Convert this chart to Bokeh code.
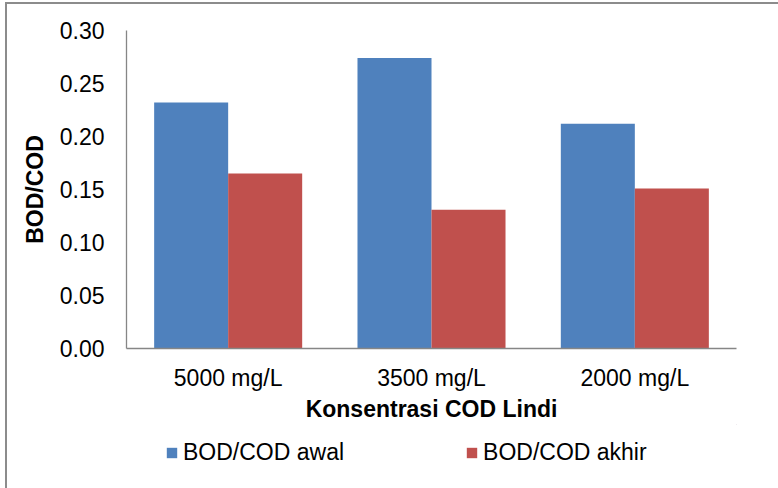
from bokeh.plotting import figure
from bokeh.layouts import column
from bokeh.models import FactorRange, Range1d, ColumnDataSource, FixedTicker, PrintfTickFormatter, Legend, LegendItem
from bokeh.transform import dodge
from bokeh.embed import file_html
from bokeh.resources import INLINE

categories = ["5000 mg/L", "3500 mg/L", "2000 mg/L"]
bod_cod_awal = [0.232, 0.274, 0.212]
bod_cod_akhir = [0.165, 0.131, 0.151]
series_names = ["BOD/COD awal", "BOD/COD akhir"]
y_ticks = [0.0, 0.05, 0.10, 0.15, 0.20, 0.25, 0.30]

FONT = "Liberation Sans"
BLUE = "#4F81BD"
RED = "#C0504D"
AXIS = "#868686"
FS = "23px"

src = ColumnDataSource(dict(cat=categories, awal=bod_cod_awal, akhir=bod_cod_akhir))

# canvas origin is at page x=7, y=4 (after margin + border)
p = figure(width=771, height=420, x_range=FactorRange(*categories, range_padding=0),
           y_range=(0, 0.30), output_backend="svg", toolbar_location=None,
           min_border_left=119, min_border_right=42, min_border_top=26, min_border_bottom=74)

r1 = p.vbar(x=dodge("cat", -0.182, range=p.x_range), top="awal", width=0.364, source=src,
            fill_color=BLUE, line_color=None)
r2 = p.vbar(x=dodge("cat", 0.182, range=p.x_range), top="akhir", width=0.364, source=src,
            fill_color=RED, line_color=None)

p.outline_line_color = None
p.xgrid.grid_line_color = None
p.ygrid.grid_line_color = None

p.yaxis.ticker = FixedTicker(ticks=y_ticks)
p.yaxis.formatter = PrintfTickFormatter(format="%.2f")
for ax in (p.xaxis[0], p.yaxis[0]):
    ax.axis_line_color = AXIS
    ax.axis_line_width = 1.3
    ax.major_tick_line_color = None
    ax.minor_tick_line_color = None
    ax.major_tick_out = 0
    ax.major_tick_in = 0
    ax.major_label_text_font = FONT
    ax.major_label_text_font_size = FS
    ax.major_label_text_color = "black"
    ax.axis_label_text_font = FONT
    ax.axis_label_text_font_size = FS
    ax.axis_label_text_font_style = "bold"
    ax.axis_label_text_color = "black"

p.yaxis.axis_label = "BOD/COD"
p.yaxis.major_label_standoff = 22
p.yaxis.axis_label_standoff = 9
p.xaxis.axis_label = "Konsentrasi COD Lindi"
p.xaxis.major_label_standoff = 16
p.xaxis.axis_label_standoff = 2

# legend strip (its frame is aligned with the main frame by the column layout)
lg = figure(width=771, height=64, x_range=Range1d(0, 1), y_range=Range1d(0, 1),
            output_backend="svg", toolbar_location=None,
            x_axis_location=None, y_axis_location=None,
            min_border_left=0, min_border_right=0, min_border_top=0, min_border_bottom=0)
lg.outline_line_color = None
lg.xgrid.grid_line_color = None
lg.ygrid.grid_line_color = None
d1 = lg.vbar(x=[5], top=[5], bottom=[4], width=0.1, fill_color=BLUE, line_color=None)
d2 = lg.vbar(x=[5], top=[5], bottom=[4], width=0.1, fill_color=RED, line_color=None)

legend = Legend(items=[LegendItem(label=series_names[0], renderers=[d1]),
                       LegendItem(label=series_names[1], renderers=[d2])],
                orientation="horizontal", location=(39, 22),
                glyph_width=13, glyph_height=13, label_standoff=5, spacing=121,
                padding=0, margin=0, border_line_color=None, background_fill_alpha=0,
                label_text_font=FONT, label_text_font_size=FS, label_text_color="black")
lg.add_layout(legend, "center")

layout = column(p, lg, spacing=0,
                styles={"margin-left": "5px", "margin-top": "2px",
                        "border-left": "2px solid #8c8c8c", "border-top": "2px solid #8c8c8c"})

open("out.html", "w").write(file_html(layout, INLINE))
